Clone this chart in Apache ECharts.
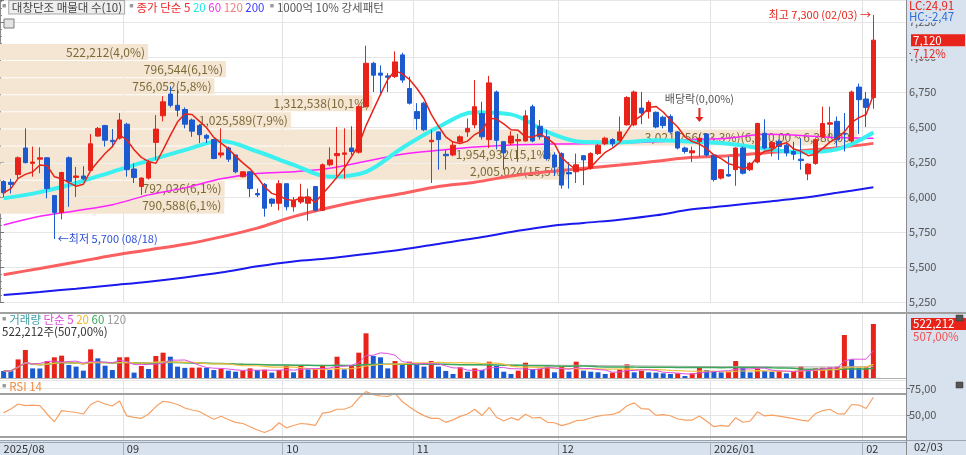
<!DOCTYPE html>
<html><head><meta charset="utf-8">
<script src="https://cdn.jsdelivr.net/npm/echarts@6/dist/echarts.min.js"></script>
<style>html,body{margin:0;padding:0;background:#fff;}#c{width:966px;height:455px;}</style>
</head><body><div id="c"></div>
<script>
// ---------- trading days ----------
const aug2025 = [6,7,8,11,12,13,14,18,19,20,21,22,25,26,27,28,29];
const sep2025 = [1,2,3,4,5,8,9,10,11,12,15,16,17,18,19,22,23,24,25,26,29,30];
const oct2025 = [1,2,10,13,14,15,16,17,20,21,22,23,24,27,28,29,30,31];
const nov2025 = [3,4,5,6,7,10,11,12,13,14,17,18,19,20,21,24,25,26,27,28];
const dec2025 = [1,2,3,4,5,8,9,10,11,12,15,16,17,18,19,22,23,24,26,29,30];
const jan2026 = [2,5,6,7,8,9,12,13,14,15,16,19,20,21,22,23,26,27,28,29,30];
const feb2026 = [2,3];
const monthBlocks = [['2025','08',aug2025],['2025','09',sep2025],['2025','10',oct2025],['2025','11',nov2025],['2025','12',dec2025],['2026','01',jan2026],['2026','02',feb2026]];

// ---------- price (OHLC) ----------
const opens = [6110,6105,6160,6350,6240,6270,6280,6010,5890,6280,
6140,6150,6190,6435,6510,6405,6420,6520,6200,6075,
6135,6390,6580,6735,6655,6625,6550,6510,6440,6410,
6300,6350,6300,6145,6180,6025,6090,5985,5955,6095,
5930,5965,5955,6075,5905,6230,6295,6305,6350,6320,
6645,6955,6885,6865,6860,7015,6775,6610,6670,6395,
6465,6305,6300,6395,6465,6515,6595,6410,6750,6395,
6385,6400,6400,6645,6505,6430,6300,6310,6175,6180,
6295,6205,6310,6380,6410,6405,6515,6515,6635,6610,
6605,6570,6575,6465,6350,6315,6395,6450,6300,6135,
6160,6195,6350,6195,6250,6455,6350,6395,6370,6325,
6270,6165,6240,6430,6520,6540,6455,6400,6785,6700,
6710];
const closes = [6030,6090,6280,6245,6250,6280,6060,5890,6175,6110,
6150,6130,6380,6490,6405,6395,6550,6195,6140,6135,
6245,6485,6680,6655,6620,6520,6470,6445,6420,6275,
6315,6270,6180,6180,6060,6015,5920,5955,6095,5930,
5975,6000,6000,5905,6230,6265,6310,6315,6325,6645,
6955,6870,6870,6855,6965,6835,6670,6560,6480,6405,
6410,6295,6370,6430,6490,6645,6430,6815,6405,6315,
6435,6410,6580,6400,6430,6275,6215,6085,6165,6230,
6265,6310,6370,6420,6380,6465,6710,6750,6600,6675,
6500,6510,6465,6350,6325,6330,6420,6300,6125,6195,
6150,6350,6170,6240,6525,6350,6390,6360,6315,6305,
6260,6235,6410,6525,6530,6410,6450,6750,6695,6640,
7120];
const lows = [6000,6025,6120,6240,6145,6170,5990,5700,5840,5930,
6000,6120,6185,6430,6360,6355,6410,6145,6100,6015,
6125,6265,6540,6640,6575,6490,6430,6385,6385,6270,
6280,6250,6170,6140,6000,6000,5860,5930,5905,5905,
5895,5950,5830,5895,5900,6220,6145,6130,6300,6310,
6640,6750,6730,6750,6850,6815,6660,6480,6470,6100,
6195,6195,6290,6380,6430,6490,6410,6350,6340,6195,
6370,6250,6395,6390,6410,6260,6150,6060,6060,6100,
6085,6195,6300,6370,6360,6400,6510,6505,6520,6560,
6490,6490,6455,6340,6310,6250,6290,6290,6110,6125,
6145,6080,6160,6185,6240,6340,6290,6265,6290,6265,
6195,6120,6230,6420,6430,6360,6325,6390,6450,6500,
6630];
const highs = [6120,6130,6290,6490,6360,6355,6285,6010,6180,6290,
6215,6220,6450,6500,6515,6485,6600,6530,6240,6140,
6265,6585,6720,6790,6765,6640,6560,6520,6450,6415,
6490,6360,6300,6185,6185,6060,6100,5990,6120,6095,
6000,6095,6060,6075,6240,6355,6500,6490,6505,6660,
7080,6965,6940,6885,7040,7030,6860,6670,6680,6480,
6470,6335,6395,6440,6560,6835,6680,6865,6760,6400,
6470,6450,6620,6660,6550,6480,6320,6320,6250,6310,
6300,6320,6380,6430,6420,6575,6720,6760,6750,6690,
6610,6580,6590,6470,6360,6360,6450,6455,6300,6200,
6290,6355,6360,6250,6530,6555,6400,6410,6380,6395,
6420,6240,6420,6645,6645,6575,6600,6760,6810,6750,
7300];

// ---------- moving averages (every MA_STEP candles) ----------
const MA_STEP = 5;
const ma20Pts  = [5990,6035,6100,6180,6260,6335,6400,6325,6230,6145,6180,6350,6500,6605,6590,6465,6392,6390,6405,6395,6380,6345,6320,6340,6460];
const ma60Pts  = [5800,5862,5902,5945,6015,6065,6130,6168,6180,6205,6255,6305,6333,6357,6372,6378,6380,6385,6395,6410,6420,6448,6440,6425,6420];
const ma120Pts = [5445,5490,5535,5582,5622,5662,5715,5778,5860,5925,5980,6025,6075,6105,6150,6180,6205,6228,6255,6283,6295,6315,6331,6352,6383];
const ma200Pts = [5300,5322,5345,5370,5395,5425,5460,5505,5540,5562,5593,5625,5665,5705,5750,5790,5815,5838,5869,5912,5938,5965,5992,6030,6069];

// ---------- volume ----------
const volumes = [67700,67000,180000,271000,93000,92000,164000,200000,216000,126000,
110000,71000,277000,190000,119000,77000,200000,201000,52000,116000,
87000,213000,245000,206000,110000,98000,100000,101000,99000,77000,
87000,71000,61000,71500,93000,77000,80000,52000,77000,116000,
55000,116000,84000,86000,116000,77000,206000,84000,126000,245000,
432000,213000,200000,93000,164000,126000,158000,135000,110000,164000,
110000,68000,39000,103000,61000,93000,77000,158000,116000,61000,
39000,71000,148000,86000,89000,110000,55000,110000,61000,158000,
71000,61000,55000,39000,52000,84000,132000,55000,71000,55000,
52000,45000,39000,45000,19000,45000,100000,77000,61000,55000,
61000,164000,100000,55000,93000,68000,61000,68000,45000,61000,
110000,77000,93000,100000,103000,110000,416000,180000,100000,103000,
522212];

// ---------- RSI 14 ----------
const rsi14 = [52.5,55.8,60.5,59,59.5,59,51.2,44,54.3,53.5,
52.6,51.2,60,63.2,60.5,58.6,63.2,49.4,48.1,47.2,
51.2,58.1,63,61.9,60,56.8,54.9,53.5,49.8,46.3,
49.1,46.1,43.5,42.4,39.4,36.4,34.1,36.9,43.1,38.4,
40.6,42.4,41.9,40.6,52,52.9,55.6,55.6,58.1,66,
71.9,69.2,67.9,67.4,70.4,62.8,57.7,53.2,49.7,47.2,
47.2,43.5,45.8,49,51.2,55.6,49.8,57.4,48.2,44.7,
47.8,45.6,51,47.5,48.1,43.5,43.1,40.4,42.3,45,
45.6,47.5,49.2,50.3,50.8,53.2,58.9,61.5,56.1,55.8,
49.9,50.7,49.6,46.6,45.6,45.6,49.4,44.4,39.5,40.6,
39.7,47.8,43.6,44.7,53.2,49.4,50.1,49.3,48.1,46.9,
45.5,44.6,51.5,54.4,55.6,51.6,51.1,60,59.5,56.3,
66.7];

// ---------- volume profile (매물대, 10 bands) ----------
const profileVolumes = [522212,796544,756052,1312538,1025589,3021256,1954932,2005024,792036,790588];
const profilePct = ['4,0','6,1','5,8','10,1','7,9','23,3','15,1','15,5','6,1','6,1'];
const profileTop = 7100, profileStep = 122;
const profileMaxRange = '6,510,00 ~ 6,388,00';

// ---------- header texts ----------
const stockName = '대창단조';
const lcText = 'LC:24,91', hcText = 'HC:-2,47';
const changePct = '7,12%';
const volRatio = '507,00%';
const exDivText = '배당락(0,00%)';
const exDivIndex = 96;

// =====================================================
const FONT = '"Noto Sans CJK KR","Noto Sans",sans-serif';
const RED = '#e8231a', BLUE = '#1c5ad0';
function buildDates(){ const d=[]; monthBlocks.forEach(([y,m,days])=>days.forEach(x=>d.push(y+'/'+m+'/'+String(x).padStart(2,'0')))); return d; }
const dateList = buildDates();
const N = dateList.length;
const cats = dateList.concat(['p1','p2','p3','p4']);
const fmt = v => Math.round(v).toLocaleString('en-US');
const mean = (arr,i,n) => { let s=0,c=0; for(let k=Math.max(0,i-n+1);k<=i;k++){s+=arr[k];c++;} return s/c; };
const isMonthStart = i => i>0 && i<N && dateList[i].slice(0,7)!==dateList[i-1].slice(0,7);

const candleData = opens.map((o,i)=>[o, closes[i], lows[i], highs[i]]);
const ma5 = closes.map((c,i)=>+mean(closes,i,5).toFixed(1));
const volData = volumes.map((v,i)=>({value:v, itemStyle:{color:(i>0 && v>=volumes[i-1])?RED:BLUE}}));
const vma = n => volumes.map((v,i)=>Math.round(mean(volumes,i,n)));

let maxI=0, minI=0;
highs.forEach((h,i)=>{ if(h>highs[maxI]) maxI=i; });
lows.forEach((l,i)=>{ if(l<lows[minI]) minI=i; });
const maxK = profileVolumes.indexOf(Math.max(...profileVolumes));
const profileData = profileVolumes.map((v,k)=>[v, profileTop-profileStep*(k+1), profileTop-profileStep*k, k]);

function catAxis(grid, extra){
  return Object.assign({type:'category', gridIndex:grid, data:cats, boundaryGap:true,
    axisLine:{show:false}, axisTick:{show:false}, axisLabel:{show:false},
    splitLine:{show:true, interval:(i)=>isMonthStart(i), lineStyle:{color:'#e2e2e2', width:1}}}, extra||{});
}
function maLine(pts, color, width, z){
  return {type:'line', xAxisIndex:0, yAxisIndex:0, data:pts.map((v,k)=>[k*MA_STEP, v]), smooth:0.35,
    showSymbol:false, symbol:'none', lineStyle:{color, width}, z, silent:true};
}
function volLine(data, color, width){
  return {type:'line', xAxisIndex:1, yAxisIndex:1, data, showSymbol:false, symbol:'none', lineStyle:{color, width}, z:4, silent:true};
}

const chart = echarts.init(document.getElementById('c'), null, {renderer:'canvas'});
const option = {
  animation:false,
  backgroundColor:'#fff',
  textStyle:{fontFamily:FONT},
  grid:[
    {left:0, width:906, top:0, height:302},
    {left:0, width:906, top:313, height:65},
    {left:0, width:906, top:380, height:62.3}
  ],
  xAxis:[
    catAxis(0),
    catAxis(1, {axisLine:{show:true, lineStyle:{color:'#b0b0b0'}}}),
    catAxis(2, {
      axisLine:{show:true, lineStyle:{color:'#9aa3b0'}},
      axisTick:{show:true, interval:(i)=>isMonthStart(i), length:14, lineStyle:{color:'#a8b0bd'}},
      axisLabel:{show:true, interval:(i)=>i===0||isMonthStart(i), align:'left', margin:1, fontSize:11, color:'#333',
        formatter:(v,i)=>{ const m=v.slice(5,7); return (i===0||m==='01')? v.slice(0,7) : m; }}
    }),
    {type:'value', gridIndex:0, position:'top', show:false, min:0, max:profileVolumes[maxK]*906/857, splitLine:{show:false}}
  ],
  yAxis:[
    {type:'value', gridIndex:0, position:'right', min:5250, max:7407, interval:250,
      axisLine:{show:true, lineStyle:{color:'#8c8c8c'}},
      axisTick:{show:true, length:4, lineStyle:{color:'#777'}},
      minorTick:{show:true, splitNumber:5, length:2, lineStyle:{color:'#888'}},
      axisLabel:{fontSize:11, color:'#555', margin:3, showMaxLabel:false, formatter:v=>fmt(v)},
      splitLine:{show:true, lineStyle:{color:'#e6e6e6'}}},
    {type:'value', gridIndex:1, position:'right', min:0, max:628600,
      axisLine:{show:true, lineStyle:{color:'#8c8c8c'}}, axisTick:{show:false}, axisLabel:{show:false}, splitLine:{show:false}},
    {type:'value', gridIndex:2, position:'right', min:25, max:82.7, interval:25,
      axisLine:{show:true, lineStyle:{color:'#8c8c8c'}},
      axisTick:{show:true, length:4, lineStyle:{color:'#777'}},
      axisLabel:{fontSize:11, color:'#555', margin:3, showMinLabel:false, showMaxLabel:false, formatter:v=>v.toFixed(2).replace('.',',')},
      splitLine:{show:true, lineStyle:{color:'#e6e6e6'}}}
  ],
  series:[
    {type:'custom', xAxisIndex:3, yAxisIndex:0, z:1, silent:true, data:profileData,
      renderItem:(params, api)=>{
        const v=api.value(0), lo=api.value(1), hi=api.value(2), k=api.value(3);
        const p0=api.coord([0,hi]), p1=api.coord([v,lo]);
        const txt = fmt(v)+'('+profilePct[k]+'%)'+(k===maxK?'('+profileMaxRange+')':'');
        return {type:'group', children:[
          {type:'rect', shape:{x:p0[0], y:p0[1]+1, width:p1[0]-p0[0], height:p1[1]-p0[1]-1}, style:{fill:'#f4e6d2'}},
          {type:'text', x:p1[0]-3, y:(p0[1]+p1[1])/2+0.5, style:{text:txt, align:'right', verticalAlign:'middle', fill:'#7c6938', font:'12px '+FONT}}
        ]};
      }},
    maLine(ma200Pts, '#1a1aee', 2, 2),
    maLine(ma120Pts, '#fb5f5f', 3, 2),
    maLine(ma60Pts, '#ff22ff', 1.5, 2),
    maLine(ma20Pts, '#3af0f0', 4, 2),
    {type:'candlestick', xAxisIndex:0, yAxisIndex:0, data:candleData, barWidth:5, z:3,
      itemStyle:{color:RED, color0:BLUE, borderColor:RED, borderColor0:BLUE, borderWidth:1},
      markPoint:{silent:true, data:[
        {coord:[maxI, highs[maxI]], symbol:'circle', symbolSize:1, itemStyle:{color:'transparent'},
          label:{show:true, position:'left', distance:2, color:RED, fontSize:11, fontFamily:FONT,
            formatter:'최고 '+fmt(highs[maxI])+' ('+dateList[maxI].slice(5)+') →'}},
        {coord:[minI, lows[minI]], symbol:'circle', symbolSize:1, itemStyle:{color:'transparent'},
          label:{show:true, position:'right', distance:3, color:'#2a4fd6', fontSize:11, fontFamily:FONT,
            formatter:'←최저 '+fmt(lows[minI])+' ('+dateList[minI].slice(5)+')'}},
        {coord:[exDivIndex, 6586], symbol:'path://M3,0 L5,0 L5,9 L8,9 L4,14 L0,9 L3,9 Z', symbolSize:[8,14], itemStyle:{color:RED},
          label:{show:true, position:'top', distance:4, color:'#555', fontSize:11, fontFamily:FONT, formatter:exDivText}}
      ]}},
    {type:'line', xAxisIndex:0, yAxisIndex:0, data:ma5, showSymbol:false, symbol:'none', lineStyle:{color:RED, width:1.5}, z:4, silent:true},
    {type:'bar', xAxisIndex:1, yAxisIndex:1, data:volData, barWidth:5, z:3, silent:true},
    volLine(vma(120), '#b0b0b0', 1),
    volLine(vma(60), '#3aa85a', 1.5),
    volLine(vma(20), '#f2c040', 1.2),
    volLine(vma(5), '#e050e0', 1),
    {type:'line', xAxisIndex:2, yAxisIndex:2, data:rsi14, showSymbol:false, symbol:'none', lineStyle:{color:'#f6a063', width:1.2}, z:4, silent:true,
      markLine:{silent:true, symbol:'none', label:{show:false}, lineStyle:{color:'#a0a0a0', width:2, type:'solid'}, data:[{yAxis:70},{yAxis:30}]}}
  ]
};
chart.setOption(option);

// ----- overlay texts / panels -----
const yClose = chart.convertToPixel({yAxisIndex:0}, closes[N-1]);
const yVol = chart.convertToPixel({yAxisIndex:1}, volumes[N-1]);
const sq = {fontSize:7, fill:'#999', padding:[0,3,2,0]};
const PANEL = '#d8e2ef';
const g = [
  {type:'rect', z:-10, shape:{x:907, y:0, width:59, height:455}, style:{fill:PANEL}},
  {type:'rect', z:-10, shape:{x:0, y:440, width:966, height:15}, style:{fill:PANEL}},
  {type:'line', z:50, shape:{x1:906.5, y1:0, x2:906.5, y2:455}, style:{stroke:'#8c8c8c', lineWidth:1}},
  {type:'line', z:50, shape:{x1:0, y1:313, x2:966, y2:313}, style:{stroke:'#a0a0a0', lineWidth:2}},
  {type:'line', z:50, shape:{x1:0, y1:440.5, x2:966, y2:440.5}, style:{stroke:'#9aa3b0', lineWidth:1}},
  {type:'text', z:60, x:2, y:1, style:{font:'11.5px '+FONT, fill:'#444',
    text:'{sq|■}{box| '+stockName+' 매물대 수(10)}  {sq|■}{r|종가 단순 5} {c|20} {m|60} {s|120} {b|200}  {sq|■}{gy|1000억 10% 강세패턴}',
    rich:{sq, box:{fill:'#444', backgroundColor:'#eeeeee', borderColor:'#a8a8a8', borderWidth:1, padding:[1,2,0,0]},
      r:{fill:'#ee2a2a'}, c:{fill:'#22e6e6'}, m:{fill:'#ee33ee'}, s:{fill:'#f47c7c'}, b:{fill:'#3a3aff'}, gy:{fill:'#555'}}}},
  {type:'rect', z:60, shape:{x:4, y:19, width:10, height:9}, style:{fill:'#e4e4e4', stroke:'#7a7a7a', lineWidth:1}},
  {type:'text', z:60, x:2, y:314, style:{font:'11.5px '+FONT, fill:'#444',
    text:'{sq|■}{t|거래량} {m|단순 5} {y|20} {g|60} {gy|120}',
    rich:{sq, t:{fill:'#3a9ea4'}, m:{fill:'#e048d8'}, y:{fill:'#f0b820'}, g:{fill:'#3aa85a'}, gy:{fill:'#999'}}}},
  {type:'text', z:60, x:2, y:326, style:{font:'11.5px '+FONT, fill:'#333', text:fmt(volumes[N-1])+'주('+volRatio+')'}},
  {type:'text', z:60, x:2, y:381, style:{font:'11.5px '+FONT, fill:'#f08a3c', text:'{sq|■}RSI 14', rich:{sq}}},
  {type:'text', z:60, x:909, y:0, style:{font:'11.5px '+FONT, fill:'#e8231a', text:lcText}},
  {type:'text', z:60, x:909, y:11, style:{font:'11.5px '+FONT, fill:'#2f6fd6', text:hcText, backgroundColor:PANEL, padding:[0,20,0,0]}},
  {type:'rect', z:60, shape:{x:911, y:yClose-6, width:54, height:12}, style:{fill:RED}},
  {type:'text', z:61, x:913, y:yClose, style:{font:'11.5px '+FONT, fill:'#fff', text:fmt(closes[N-1]), verticalAlign:'middle'}},
  {type:'text', z:61, x:911, y:yClose+13, style:{font:'11.5px '+FONT, fill:'#e8231a', text:changePct, verticalAlign:'middle', backgroundColor:PANEL, padding:[0,22,0,2]}},
  {type:'rect', z:60, shape:{x:911, y:yVol-6, width:55, height:12}, style:{fill:RED}},
  {type:'text', z:61, x:913, y:yVol, style:{font:'11.5px '+FONT, fill:'#fff', text:fmt(volumes[N-1]), verticalAlign:'middle'}},
  {type:'text', z:61, x:913, y:yVol+13, style:{font:'11.5px '+FONT, fill:'#f05050', text:volRatio, verticalAlign:'middle'}},
  {type:'rect', z:62, shape:{x:956, y:315, width:7, height:6}, style:{fill:'#555', stroke:'#333', lineWidth:0.5}},
  {type:'rect', z:62, shape:{x:956, y:382, width:7, height:6}, style:{fill:'#555', stroke:'#333', lineWidth:0.5}},
  {type:'text', z:60, x:914, y:441, style:{font:'11px '+FONT, fill:'#333', text:dateList[N-1].slice(5)}}
];
chart.setOption({graphic:g});
</script></body></html>
